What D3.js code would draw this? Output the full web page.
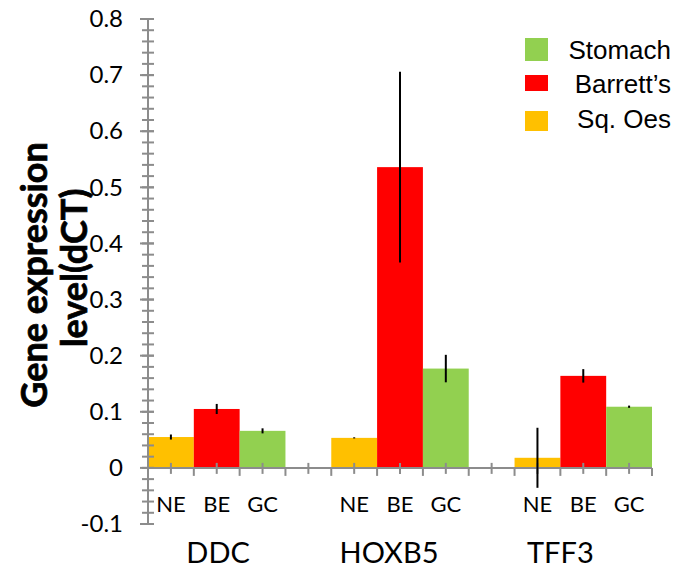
<!DOCTYPE html>
<html>
<head>
<meta charset="utf-8">
<script src="https://cdn.jsdelivr.net/npm/d3@7"></script>
<style>
  body { margin: 0; background: #fff; }
  svg { display: block; }
</style>
</head>
<body>
<div id="grafico"></div>
<script>
// datos
var genes = ['DDC', 'HOXB5', 'TFF3'];
var tejidos = ['NE', 'BE', 'GC'];
var valoresNE = [0.055, 0.0535, 0.018];
var valoresBE = [0.105, 0.536, 0.164];
var valoresGC = [0.066, 0.177, 0.109];
var errorNE = [0.0045, 0.001, 0.0535];
var errorBE = [0.009, 0.17, 0.012];
var errorGC = [0.0045, 0.0245, 0.002];
var ticksY = [-0.1, 0, 0.1, 0.2, 0.3, 0.4, 0.5, 0.6, 0.7, 0.8];
var leyenda = ['Stomach', 'Barrett’s', 'Sq. Oes'];

var colores = { NE: '#FFC000', BE: '#FF0000', GC: '#92D050' };
var coloresLeyenda = ['#92D050', '#FF0000', '#FFC000'];
var gris = '#8c8c8c';

var chart_width = 675;
var chart_height = 568;

var svg = d3.select('#grafico').append('svg')
    .attr('width', chart_width)
    .attr('height', chart_height);

// categorias con espacio vacio entre genes
var categorias = [];
var barras = [];
var serie = { NE: valoresNE, BE: valoresBE, GC: valoresGC };
var errores = { NE: errorNE, BE: errorBE, GC: errorGC };
genes.forEach(function (g, i) {
    tejidos.forEach(function (t) {
        categorias.push(g + '-' + t);
        barras.push({ id: g + '-' + t, tejido: t, valor: serie[t][i], err: errores[t][i] });
    });
    if (i < genes.length - 1) categorias.push('vacio-' + i);
});

// ---------ESCALAS------------
var scale_x = d3.scaleBand()
    .domain(categorias)
    .range([148, 652])
    .padding(0);

var scale_y = d3.scaleLinear()
    .domain([-0.1, 0.8])
    .range([524, 19]);

var y0 = scale_y(0);
var x0 = scale_x.range()[0];

// Barras
svg.append('g').selectAll('rect')
    .data(barras)
    .enter().append('rect')
    .attr('x', function (d) { return scale_x(d.id); })
    .attr('width', scale_x.bandwidth())
    .attr('y', function (d) { return scale_y(Math.max(0, d.valor)); })
    .attr('height', function (d) { return Math.abs(scale_y(d.valor) - y0); })
    .attr('fill', function (d) { return colores[d.tejido]; });

// funcion para dibujar lineas de ticks
function lineas(datos, fx1, fx2, fy1, fy2) {
    svg.append('g').selectAll('line')
        .data(datos)
        .enter().append('line')
        .attr('x1', fx1).attr('x2', fx2)
        .attr('y1', fy1).attr('y2', fy2)
        .attr('stroke', gris)
        .attr('stroke-width', 2);
}

// EJE Y - etiquetas
var ejeY = svg.append('g')
    .attr('transform', 'translate(' + x0 + ',0)')
    .call(d3.axisLeft(scale_y).tickValues(ticksY).tickSize(8).tickSizeOuter(0).tickPadding(17)
        .tickFormat(function (d) { return d === 0 ? '0' : d3.format('.1f')(d).replace('−', '-'); }));
ejeY.selectAll('.tick line').remove();
ejeY.select('.domain').remove();
ejeY.selectAll('text')
    .attr('font-family', 'Lato, sans-serif')
    .attr('font-size', 24)
    .attr('fill', '#000');

// linea del eje Y y ticks
var menores = d3.range(-5, 41).map(function (k) { return k * 0.02; });
lineas(menores,
    function () { return x0 - 6; }, function () { return x0 + 6; },
    function (d) { return scale_y(d); }, function (d) { return scale_y(d); });
lineas(ticksY,
    function () { return x0 - 8; }, function () { return x0 + 6; },
    function (d) { return scale_y(d); }, function (d) { return scale_y(d); });
lineas([0],
    function () { return x0; }, function () { return x0; },
    function () { return scale_y.range()[0]; }, function () { return scale_y.range()[1]; });

// EJE X en y = 0 - etiquetas
var ejeX = svg.append('g')
    .attr('transform', 'translate(0,' + y0 + ')')
    .call(d3.axisBottom(scale_x).tickSize(6).tickSizeOuter(0).tickPadding(23)
        .tickFormat(function (d) { return d.indexOf('vacio') === 0 ? '' : d.split('-')[1]; }));
ejeX.selectAll('.tick line').remove();
ejeX.select('.domain').remove();
ejeX.selectAll('text')
    .attr('font-family', 'Lato, sans-serif')
    .attr('font-size', 22)
    .attr('fill', '#000');

// linea del eje X
lineas([0],
    function () { return scale_x.range()[0]; }, function () { return scale_x.range()[1]; },
    function () { return y0; }, function () { return y0; });
// ticks en el centro de cada categoria (cruzan el eje)
lineas(categorias,
    function (d) { return scale_x(d) + scale_x.bandwidth() / 2; },
    function (d) { return scale_x(d) + scale_x.bandwidth() / 2; },
    function () { return y0 - 5; }, function () { return y0 + 6; });
// ticks en los bordes de cada categoria
var bordes = categorias.map(function (c) { return scale_x(c); }).concat([scale_x.range()[1]]);
lineas(bordes,
    function (d) { return d; }, function (d) { return d; },
    function () { return y0; }, function () { return y0 + 8; });

// Barras de error
svg.append('g').selectAll('line')
    .data(barras)
    .enter().append('line')
    .attr('x1', function (d) { return scale_x(d.id) + scale_x.bandwidth() / 2; })
    .attr('x2', function (d) { return scale_x(d.id) + scale_x.bandwidth() / 2; })
    .attr('y1', function (d) { return scale_y(d.valor + d.err); })
    .attr('y2', function (d) { return scale_y(d.valor - d.err); })
    .attr('stroke', '#000')
    .attr('stroke-width', 2);

// Nombres de los genes (desplazamiento en fracciones de banda)
var posGenes = [['DDC-BE', 0.53], ['HOXB5-BE', 0.26], ['TFF3-BE', 0.0]];
svg.append('g').selectAll('text')
    .data(genes)
    .enter().append('text')
    .attr('x', function (d, i) { return scale_x(posGenes[i][0]) + posGenes[i][1] * scale_x.bandwidth(); })
    .attr('y', 563)
    .attr('text-anchor', 'middle')
    .attr('font-family', 'Lato, sans-serif')
    .attr('font-size', 29)
    .attr('fill', '#000')
    .text(function (d) { return d; });

// Titulo eje Y (dos lineas)
var titulo = svg.append('g').attr('font-family', 'Lato, sans-serif')
    .attr('font-weight', 'bold').attr('font-size', 36).attr('fill', '#000')
    .attr('stroke', '#000').attr('stroke-width', 0.7)
    .attr('text-anchor', 'middle');
titulo.append('text')
    .attr('transform', 'translate(47,275) rotate(-90)')
    .text('Gene expression');
titulo.append('text')
    .attr('transform', 'translate(87,268) rotate(-90)')
    .text('level(dCT)');

// Leyenda
var altoCuadro = [23, 16, 20];
var centroCuadro = [49.5, 83, 121];
var baseTexto = [59, 93, 128];
var gLeyenda = svg.append('g');
leyenda.forEach(function (t, i) {
    gLeyenda.append('rect')
        .attr('x', 525)
        .attr('y', centroCuadro[i] - altoCuadro[i] / 2)
        .attr('width', 23)
        .attr('height', altoCuadro[i])
        .attr('fill', coloresLeyenda[i]);
    gLeyenda.append('text')
        .attr('x', 671)
        .attr('y', baseTexto[i])
        .attr('text-anchor', 'end')
        .attr('font-family', '"Liberation Sans", Arial, sans-serif')
        .attr('font-size', 26)
        .attr('fill', '#000')
        .text(t);
});
</script>
</body>
</html>
